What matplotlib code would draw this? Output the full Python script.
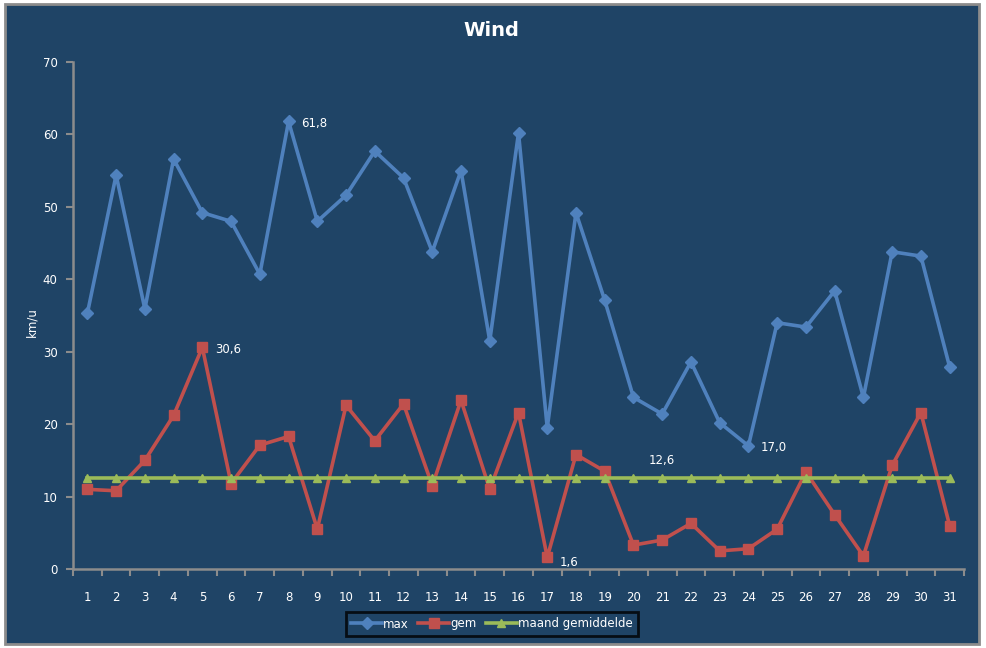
import numpy as np
import matplotlib
matplotlib.use('Agg')
from matplotlib import pyplot as plt
from matplotlib.patches import Rectangle

days = list(range(1, 32))
wind_max = [35.3, 54.4, 35.9, 56.6, 49.2, 48.0, 40.7, 61.8, 48.0, 51.6,
            57.7, 54.0, 43.8, 55.0, 31.5, 60.2, 19.5, 49.2, 37.1, 23.7,
            21.4, 28.6, 20.2, 17.0, 34.0, 33.4, 38.4, 23.7, 43.8, 43.2, 27.9]
wind_gem = [11.0, 10.8, 15.0, 21.2, 30.6, 11.8, 17.1, 18.3, 5.5, 22.6,
            17.7, 22.8, 11.5, 23.3, 11.0, 21.6, 1.6, 15.8, 13.5, 3.3,
            4.0, 6.3, 2.5, 2.8, 5.5, 13.4, 7.5, 1.8, 14.3, 21.6, 6.0]
maand_gem = [12.6] * 31

bg = '#1F4466'
fg = 'white'
grey = '#8C8C8C'

fig = plt.figure(figsize=(9.87, 6.48), dpi=100, facecolor='white')
fig.patches.append(Rectangle((5 / 987, 4 / 648), 974 / 987, 640 / 648,
                             transform=fig.transFigure, facecolor=bg,
                             edgecolor=grey, linewidth=2, zorder=-10))
ax = fig.add_axes([73 / 987, 1 - 569 / 648, (964 - 73) / 987, (569 - 62) / 648])
ax.set_facecolor(bg)

ax.plot(days, wind_max, color='#4F81BD', lw=2.6, marker='D', ms=6.5, label='max')
ax.plot(days, wind_gem, color='#C0504D', lw=2.6, marker='s', ms=7.5, label='gem')
ax.plot(days, maand_gem, color='#9BBB59', lw=2.6, marker='^', ms=6,
        label='maand gemiddelde')

ax.set_xlim(0.5, 31.5)
ax.set_ylim(0, 70)
ax.set_yticks(range(0, 71, 10))
ax.set_xticks(days)
ax.set_xticks(np.arange(0.5, 32, 1), minor=True)
ax.tick_params(axis='x', which='major', length=0, pad=16, colors=fg, labelsize=8.5)
ax.tick_params(axis='x', which='minor', length=5, color=grey, width=1.5)
ax.tick_params(axis='y', length=5, color=grey, width=1.5, pad=6,
               labelcolor=fg, labelsize=8.5)
for s in ['top', 'right']:
    ax.spines[s].set_visible(False)
for s in ['left', 'bottom']:
    ax.spines[s].set_color(grey)
    ax.spines[s].set_linewidth(1.8)

def fmt(v):
    return ('%.1f' % v).replace('.', ',')

# data labels
ax.annotate(fmt(wind_max[7]), (days[7], wind_max[7]), xytext=(9, -4),
            textcoords='offset points', color=fg, fontsize=8.5)
ax.annotate(fmt(wind_max[23]), (days[23], wind_max[23]), xytext=(9, -4),
            textcoords='offset points', color=fg, fontsize=8.5)
ax.annotate(fmt(wind_gem[4]), (days[4], wind_gem[4]), xytext=(9, -4),
            textcoords='offset points', color=fg, fontsize=8.5)
ax.annotate(fmt(wind_gem[16]), (days[16], wind_gem[16]), xytext=(9, -6),
            textcoords='offset points', color=fg, fontsize=8.5)
ax.annotate(fmt(maand_gem[20]), (days[20], maand_gem[20]), xytext=(0, 10),
            textcoords='offset points', color=fg, fontsize=8.5, ha='center')

fig.text(491 / 987, 1 - 31 / 648, 'Wind', color=fg, fontsize=14,
         fontweight='bold', ha='center', va='center')
fig.text(32 / 987, 1 - 322 / 648, 'km/u', color=fg, fontsize=8.5,
         rotation=90, ha='center', va='center')

leg = fig.legend(loc='center', bbox_to_anchor=(492 / 987, 1 - 624 / 648), ncol=3,
                 frameon=True, fancybox=False, facecolor=bg, edgecolor='black',
                 fontsize=8.5, handlelength=2.6, columnspacing=0.8,
                 handletextpad=0.1, borderpad=0.45, borderaxespad=0)
leg.get_frame().set_linewidth(2)
for t in leg.get_texts():
    t.set_color(fg)

fig.savefig('out.png', dpi=100, facecolor='white')
